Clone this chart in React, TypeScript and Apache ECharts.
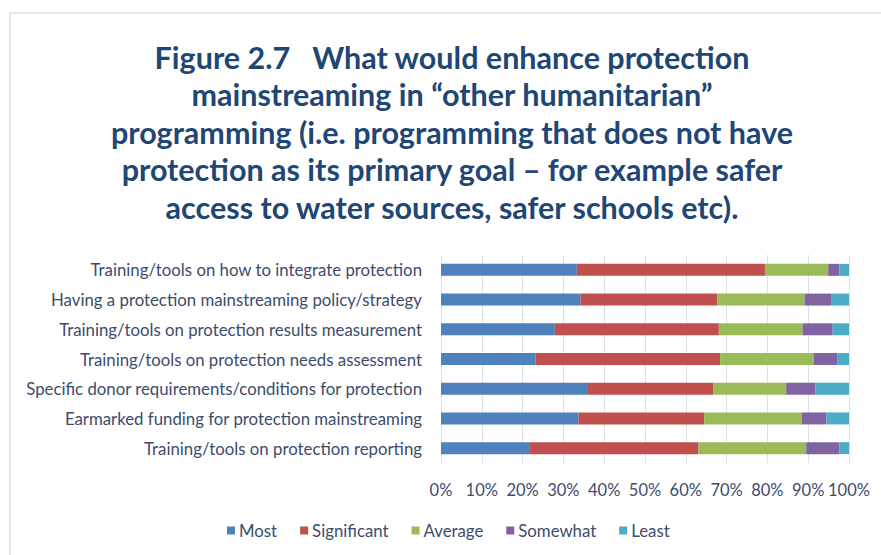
import React, { useEffect, useRef } from "react";
import * as echarts from "echarts";

const categories = [
  "Training/tools on how to integrate protection",
  "Having a protection mainstreaming policy/strategy",
  "Training/tools on protection results measurement",
  "Training/tools on protection needs assessment",
  "Specific donor requirements/conditions for protection",
  "Earmarked funding for protection mainstreaming",
  "Training/tools on protection reporting",
];

const most = [33.3, 34.2, 27.9, 23.2, 35.8, 33.7, 21.6];
const significant = [46.1, 33.5, 40.2, 45.2, 31.0, 30.8, 41.5];
const average = [15.5, 21.4, 20.5, 22.9, 17.8, 23.9, 26.4];
const somewhat = [2.7, 6.5, 7.4, 5.8, 7.2, 6.1, 8.1];
const least = [2.4, 4.4, 4.0, 2.9, 8.2, 5.5, 2.4];

const seriesNames = ["Most", "Significant", "Average", "Somewhat", "Least"];
const seriesData = [most, significant, average, somewhat, least];
const colors = ["#4f81bd", "#c0504d", "#9bbb59", "#8064a2", "#4bacc6"];

const titleText =
  "Figure 2.7   What would enhance protection\nmainstreaming in \u201cother humanitarian\u201d\nprogramming (i.e. programming that does not have\nprotection as its primary goal \u2013 for example safer\naccess to water sources, safer schools etc).";

export default function App() {
  const ref = useRef<HTMLDivElement>(null);
  useEffect(() => {
    document.body.style.margin = "0";
    const chart = echarts.init(ref.current!, null, { renderer: "svg" });
    const font = "Lato";
    const textColor = "#3d4c6c";
    chart.setOption({
      animation: false,
      backgroundColor: "#ffffff",
      color: colors,
      title: {
        text: titleText,
        left: 447,
        textAlign: "center",
        top: 33,
        textStyle: {
          fontFamily: font,
          fontSize: 30.5,
          fontWeight: "bold",
          color: "#1f4674",
          lineHeight: 37.5,
        },
      },
      graphic: [
        {
          type: "rect",
          shape: { x: 10, y: 13, width: 900, height: 600 },
          style: { fill: "none", stroke: "#e3e7ee", lineWidth: 2 },
          silent: true,
        },
      ],
      legend: {
        left: 222,
        top: 517,
        itemWidth: 8,
        itemHeight: 8,
        itemGap: 23,
        icon: "rect",
        textStyle: { fontFamily: font, fontSize: 16.8, color: textColor, padding: [0, 0, 0, -1] },
        data: seriesNames,
      },
      grid: { left: 441, right: 32, top: 255, height: 208, containLabel: false },
      xAxis: {
        type: "value",
        min: 0,
        max: 100,
        interval: 10,
        axisLine: { show: false },
        axisTick: { show: false },
        splitLine: { lineStyle: { color: "#dbe0e9", width: 1 } },
        axisLabel: {
          formatter: "{value}%",
          fontFamily: font,
          fontSize: 16.5,
          color: textColor,
          margin: 18,
        },
      },
      yAxis: {
        type: "category",
        inverse: true,
        data: categories,
        axisLine: { show: false },
        axisTick: { show: false },
        axisLabel: {
          fontFamily: font,
          fontSize: 16.8,
          color: textColor,
          margin: 19,
        },
      },
      series: seriesNames.map((name, i) => ({
        name,
        type: "bar",
        stack: "total",
        barWidth: 12,
        data: seriesData[i],
        itemStyle: { color: colors[i] },
      })),
    });
    return () => chart.dispose();
  }, []);
  return <div ref={ref} style={{ width: 881, height: 555 }} />;
}
